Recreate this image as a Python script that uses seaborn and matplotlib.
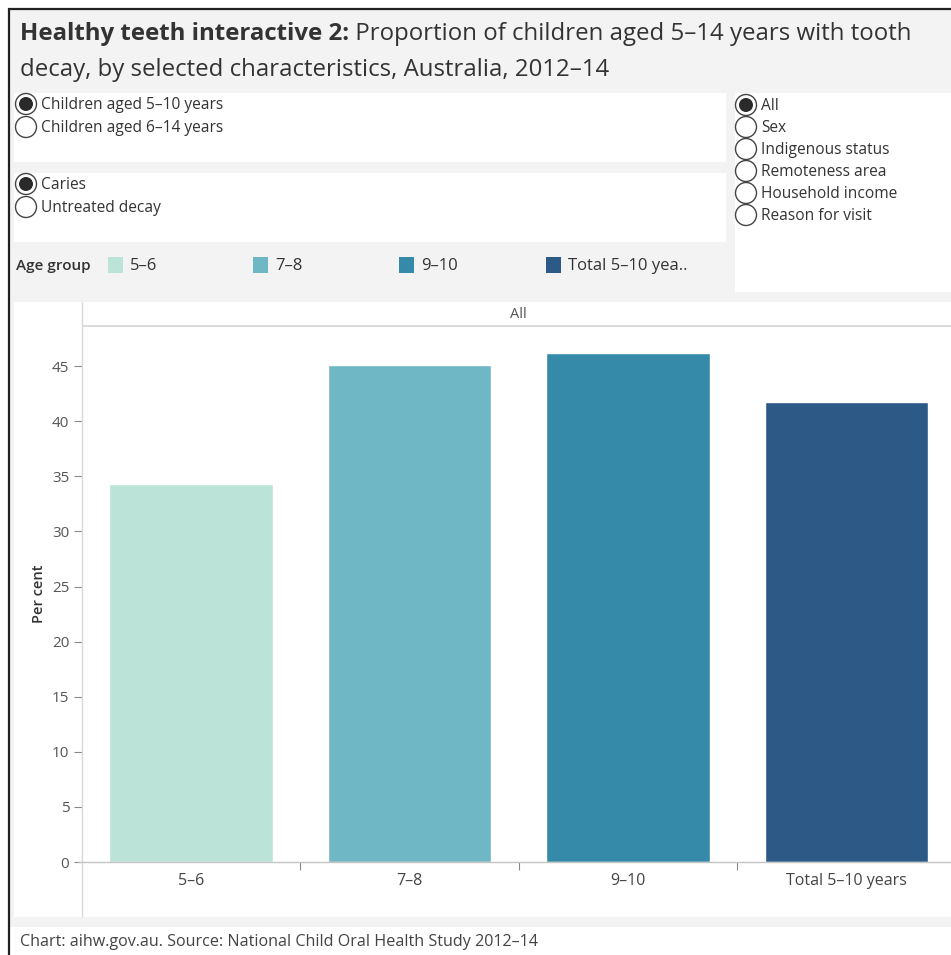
import matplotlib
matplotlib.use("Agg")
import matplotlib.pyplot as plt
import seaborn as sns
import pandas as pd
from matplotlib.patches import Rectangle, Ellipse
from matplotlib.lines import Line2D

# ---- data ----
categories = ["5–6", "7–8", "9–10", "Total 5–10 years"]
values = [34.3, 45.1, 46.2, 41.7]
colors = ["#bce3d8", "#6fb7c4", "#368aa9", "#2c5985"]
legend_labels = ["5–6", "7–8", "9–10", "Total 5–10 yea.."]
y_ticks = [0, 5, 10, 15, 20, 25, 30, 35, 40, 45]
facet_label = "All"
radio_age = ["Children aged 5–10 years", "Children aged 6–14 years"]
radio_measure = ["Caries", "Untreated decay"]
radio_char = ["All", "Sex", "Indigenous status", "Remoteness area",
              "Household income", "Reason for visit"]
title_bold = "Healthy teeth interactive 2:"
title_rest1 = " Proportion of children aged 5–14 years with tooth"
title_line2 = "decay, by selected characteristics, Australia, 2012–14"
caption = "Chart: aihw.gov.au. Source: National Child Oral Health Study 2012–14"

df = pd.DataFrame({"Age group": categories, "Percent": values})

sns.set_theme(style="white")
plt.rcParams['font.family'] = ['Open Sans', 'DejaVu Sans']

W, H = 951, 955
fig = plt.figure(figsize=(W / 100, H / 100), dpi=100)
fig.patch.set_facecolor("white")


def fx(x):
    return x / W


def fy(y):
    return 1 - y / H


def rect(x0, y0, x1, y1, color, z=-5, ec="none", lw=0):
    fig.add_artist(Rectangle((fx(x0), fy(y1)), (x1 - x0) / W, (y1 - y0) / H,
                             transform=fig.transFigure, facecolor=color,
                             edgecolor=ec, linewidth=lw, zorder=z))


def line(x0, y0, x1, y1, color, lw=1.0, z=6):
    fig.add_artist(Line2D([fx(x0), fx(x1)], [fy(y0), fy(y1)],
                          transform=fig.transFigure, color=color, lw=lw,
                          zorder=z, solid_capstyle="butt"))


GRAY = "#f3f3f3"
TXT = "#333333"

# background areas
rect(9, 9, 951, 927, GRAY, z=-10)
rect(14, 93, 726, 162, "white")
rect(14, 173, 726, 242, "white")
rect(735, 93, 951, 292, "white")
rect(14, 302, 951, 917, "white")

# outer border
line(9, 8, 9, 955, "#222222", lw=1.6, z=8)
line(8, 9, 951, 9, "#222222", lw=1.6, z=8)

# title
TFS = 17.3
r = fig.canvas.get_renderer()
tb = fig.text(fx(20), fy(40), title_bold, fontsize=TFS, fontweight="bold",
              color=TXT, va="baseline", ha="left")
bb = tb.get_window_extent(renderer=r)
fig.text(bb.x1 / W, fy(40), title_rest1, fontsize=TFS, color=TXT,
         va="baseline", ha="left")
fig.text(fx(20), fy(76), title_line2, fontsize=TFS, color=TXT,
         va="baseline", ha="left")


def radio(cx, cy, label, selected):
    fig.add_artist(Ellipse((fx(cx), fy(cy)), 21 / W, 21 / H,
                           transform=fig.transFigure, facecolor="white",
                           edgecolor="#444444", linewidth=1.0, zorder=4))
    if selected:
        fig.add_artist(Ellipse((fx(cx), fy(cy)), 14 / W, 14 / H,
                               transform=fig.transFigure, facecolor="#2a2a2a",
                               edgecolor="none", zorder=5))
    fig.text(fx(cx + 15), fy(cy + 1), label, fontsize=11.2, color=TXT,
             va="center", ha="left")


for i, lab in enumerate(radio_age):
    radio(26, 104 + 23 * i, lab, i == 0)
for i, lab in enumerate(radio_measure):
    radio(26, 184 + 23 * i, lab, i == 0)
for i, lab in enumerate(radio_char):
    radio(746, 105 + 22 * i, lab, i == 0)

# legend
fig.text(fx(16), fy(266), "Age group", fontsize=11, fontweight="semibold",
         color=TXT, va="center", ha="left")
sw_x = [108, 253, 399, 546]
for x, c, lab in zip(sw_x, colors, legend_labels):
    rect(x, 257, x + 15, 273, c, z=2)
    fig.text(fx(x + 22), fy(266), lab, fontsize=12, color=TXT,
             va="center", ha="left")

# chart axes (pixel placement)
ax_left, ax_right, ax_top, ax_bottom = 81.75, 955.75, 326, 862
ax = fig.add_axes([fx(ax_left), fy(ax_bottom), (ax_right - ax_left) / W,
                   (ax_bottom - ax_top) / H])
ax.set_facecolor("none")
sns.barplot(data=df, x="Age group", y="Percent", hue="Age group",
            palette=colors, order=categories, hue_order=categories,
            width=0.746, saturation=1, legend=False, ax=ax)
ax.set_xlim(-0.5, 3.5)
ax.set_ylim(0, (ax_bottom - ax_top) / 11.02)
for s in ax.spines.values():
    s.set_visible(False)
ax.set_yticks(y_ticks)
ax.set_yticklabels([str(t) for t in y_ticks])
ax.tick_params(axis="y", left=True, length=6, width=0.8, color="#888888",
               labelsize=11, labelcolor="#555555", pad=3)
ax.tick_params(axis="x", bottom=False, length=0, labelsize=11.5,
               labelcolor="#444444", pad=8)
ax.set_xticks([0.5, 1.5, 2.5], minor=True)
ax.tick_params(axis="x", which="minor", bottom=True, length=6, width=0.8,
               color="#888888")
ax.set_xlabel("")
ax.set_ylabel("Per cent", fontsize=10.5, fontweight="semibold", color=TXT,
              labelpad=4)
ax.grid(False)

# facet header & axis lines
line(82, 326, 951, 326, "#d4d4d4", lw=1.2)
line(81.5, 302, 81.5, 917, "#d9d9d9", lw=1.0)
line(78, 862, 951, 862, "#c4c4c4", lw=1.0)
fig.text((82 + 955) / 2 / W, fy(314), facet_label, fontsize=10.5,
         color="#555555", ha="center", va="center")

# caption
fig.text(fx(20), fy(942), caption, fontsize=11.6, color="#444444",
         ha="left", va="center")

fig.savefig("out.png", dpi=100, facecolor=fig.get_facecolor())
